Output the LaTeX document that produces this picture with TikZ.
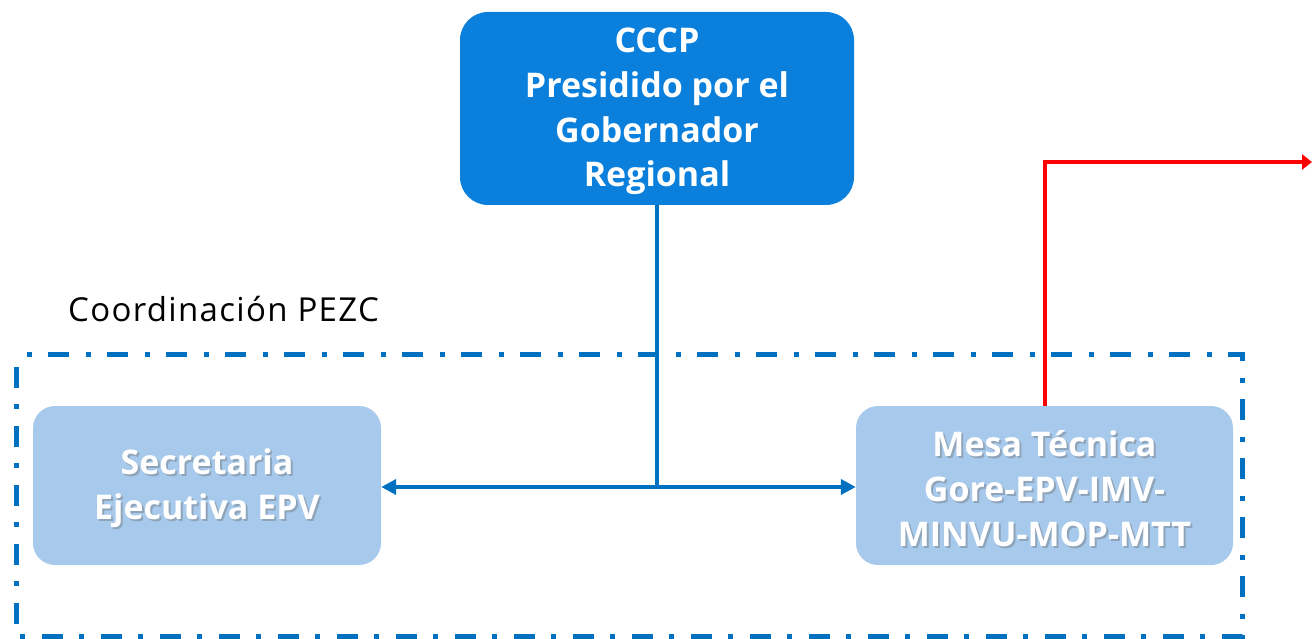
\documentclass[tikz,border=0pt]{standalone}
\usepackage{fontspec}
\setmainfont{Open Sans}
\usetikzlibrary{arrows.meta}
\definecolor{topblue}{HTML}{0A7FDB}
\definecolor{lightblue}{HTML}{A7C9EB}
\definecolor{lineblue}{HTML}{0070C0}
\definecolor{shadowgray}{HTML}{7F8C99}
\tikzset{
  topbox/.style={fill=topblue, rounded corners=28pt, minimum width=394pt, minimum height=193pt, inner sep=0pt},
  lightbox/.style={fill=lightblue, rounded corners=22pt, minimum height=159pt, inner sep=0pt},
  boxtext/.style={text=white, font=\fontsize{34}{44.7}\selectfont\bfseries, align=center, inner sep=0pt},
  shadowtext/.style={text=shadowgray, opacity=0.6, font=\fontsize{34}{44.7}\selectfont\bfseries, align=center, inner sep=0pt},
  conn/.style={draw=lineblue, line width=4pt},
  dashframe/.style={draw=lineblue, line width=5pt, dash pattern=on 21pt off 16pt on 5pt off 17pt, dash phase=-13pt},
  redconn/.style={draw=red, line width=4pt, -{Triangle[length=10pt,width=15pt]}},
  bluearrow/.style={-{Triangle[length=15pt,width=15pt]}}
}
\begin{document}
\begin{tikzpicture}[x=1pt, y=-1pt]
\useasboundingbox (0,0) rectangle (1312,639);
% frame
\draw[dashframe] (16,354) rectangle (1242,636);
\node[anchor=west, font=\fontsize{33}{38}\selectfont\addfontfeatures{LetterSpace=4}, inner sep=0pt] (coord) at (68,309) {Coordinación PEZC};
% boxes
\node[topbox] (top) at (657,108.5) {};
\node[boxtext] (toptext) at ([shift={(0,3)}]top.center) {CCCP\\Presidido por el\\Gobernador\\Regional};
\node[lightbox, minimum width=348pt] (left) at (207,485.5) {};
\node[shadowtext] (lefts) at ([shift={(2,5)}]left.center) {Secretaria\\Ejecutiva EPV};
\node[boxtext] (lefttext) at ([shift={(0,3)}]left.center) {Secretaria\\Ejecutiva EPV};
\node[lightbox, minimum width=377pt] (right) at (1044.5,485.5) {};
\node[shadowtext] (rights) at ([shift={(2,5)}]right.center) {Mesa Técnica\\Gore-EPV-IMV-\\MINVU-MOP-MTT};
\node[boxtext] (righttext) at ([shift={(0,3)}]right.center) {Mesa Técnica\\Gore-EPV-IMV-\\MINVU-MOP-MTT};
% connectors
\coordinate (j) at (657,487);
\draw[conn] (top.south) -- (j);
\draw[conn, bluearrow] (j) -- (j -| left.east);
\draw[conn, bluearrow] (j) -- (j -| right.west);
\coordinate (redend) at (1312,162);
\draw[redconn] (right.north) |- (redend);
\end{tikzpicture}
\end{document}
